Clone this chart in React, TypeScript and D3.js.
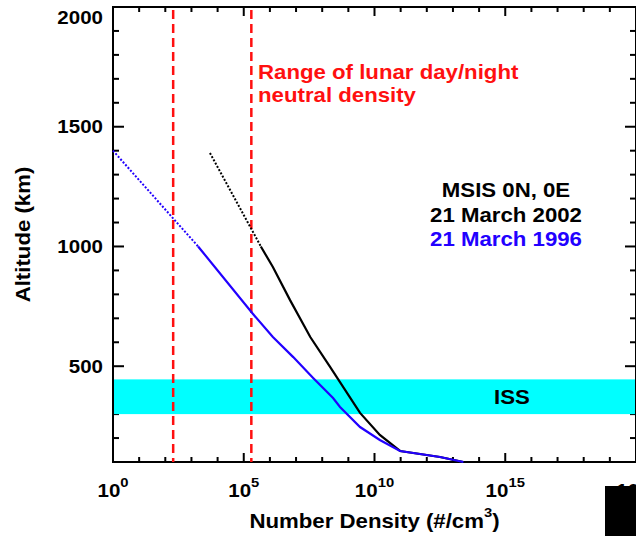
import { useEffect, useRef } from 'react'
import * as d3 from 'd3'

// axis setup
const densityDomain = [1e0, 1e20]
const altitudeDomain = [100, 2000]
const xTickExponents = [0, 5, 10, 15, 20]
const yTickValues = [500, 1000, 1500, 2000]

// MSIS 0N 0E, 21 March 1996 (blue)
const altitude1996Dotted = [1400, 1000]
const density1996Dotted = [1e0, 1.8e3]
const altitude1996Solid = [1000, 722, 622, 538, 451, 367, 330, 246, 192, 146, 121, 100]
const density1996Solid = [1.8e3, 2.1e5, 1.3e6, 7.8e6, 4.5e7, 2.6e8, 4.8e8, 2.8e9, 1.6e10, 9.5e10, 3.2e12, 2.5e13]

// MSIS 0N 0E, 21 March 2002 (black)
const altitude2002Dotted = [1390, 1000]
const density2002Dotted = [5.1e3, 4.5e5]
const altitude2002Solid = [1000, 914, 776, 622, 497, 367, 305, 213, 146, 121, 100]
const density2002Solid = [4.5e5, 1.3e6, 5.9e6, 3.5e7, 2.0e8, 1.2e9, 2.8e9, 1.6e10, 9.5e10, 3.2e12, 2.5e13]

// lunar day/night range and ISS altitude band
const lunarDensityRange = [2.0e2, 1.95e5]
const issAltitudeRange = [300, 445]

const rangeLabel = ["Range of lunar day/night", "neutral density"]
const legendLines = ["MSIS 0N, 0E", "21 March 2002", "21 March 1996"]

const FONT = "'Liberation Sans', Arial, sans-serif"
const SX = 1.14
const BLUE = "#2200ff"
const RED = "#ff1010"

function App() {
    const ref = useRef(null)

    useEffect(() => {
        const svg = d3.select(ref.current)
        svg.selectAll("*").remove()

        const xScale = d3.scaleLog().domain(densityDomain).range([113, 636])
        const yScale = d3.scaleLinear().domain(altitudeDomain).range([462, 7])
        const [x0, x1] = xScale.range()
        const [yb, yt] = yScale.range()

        const addText = (px, py, str, size, color, anchor, rotate = 0) =>
            svg
                .append("text")
                .attr("transform", `translate(${px},${py}) rotate(${rotate}) scale(${SX},1)`)
                .attr("text-anchor", anchor)
                .attr("font-family", FONT)
                .attr("font-weight", "bold")
                .attr("font-size", size)
                .attr("fill", color)
                .text(str)

        // ticks on all four sides
        const ticks = svg.append("g").attr("stroke", "black").attr("stroke-width", 2)
        d3.range(0, 21).forEach(e => {
            const px = xScale(10 ** e)
            const len = e % 5 === 0 ? 9 : 5
            ticks.append("line").attr("x1", px).attr("x2", px).attr("y1", yb).attr("y2", yb - len)
            ticks.append("line").attr("x1", px).attr("x2", px).attr("y1", yt).attr("y2", yt + len)
        })
        d3.range(100, 2001, 100).forEach(v => {
            const py = yScale(v)
            const len = v % 500 === 0 ? 11 : 6
            ticks.append("line").attr("x1", x0).attr("x2", x0 + len).attr("y1", py).attr("y2", py)
            ticks.append("line").attr("x1", x1).attr("x2", x1 - len).attr("y1", py).attr("y2", py)
        })

        // ISS band
        svg
            .append("rect")
            .attr("x", x0)
            .attr("y", yScale(issAltitudeRange[1]))
            .attr("width", x1 - x0)
            .attr("height", yScale(issAltitudeRange[0]) - yScale(issAltitudeRange[1]))
            .attr("fill", "#00ffff")

        // frame
        svg
            .append("rect")
            .attr("x", x0)
            .attr("y", yt)
            .attr("width", x1 - x0)
            .attr("height", yb - yt)
            .attr("fill", "none")
            .attr("stroke", "black")
            .attr("stroke-width", 2)

        // lunar range dashed lines
        lunarDensityRange.forEach(d => {
            svg
                .append("line")
                .attr("x1", xScale(d))
                .attr("x2", xScale(d))
                .attr("y1", yt + 3)
                .attr("y2", yb)
                .attr("stroke", RED)
                .attr("stroke-width", 2.5)
                .attr("stroke-dasharray", "9,5")
        })

        const path = d3
            .line()
            .x(d => xScale(d[0]))
            .y(d => yScale(d[1]))

        const drawSeries = (dens, alts, color, dotted) => {
            svg
                .append("path")
                .datum(dens.map((d, i) => [d, alts[i]]))
                .attr("d", path)
                .attr("fill", "none")
                .attr("stroke", color)
                .attr("stroke-width", dotted ? 2 : 2.2)
                .attr("stroke-dasharray", dotted ? "2,1.7" : null)
        }

        drawSeries(density2002Dotted, altitude2002Dotted, "black", true)
        drawSeries(density2002Solid, altitude2002Solid, "black", false)
        drawSeries(density1996Dotted, altitude1996Dotted, BLUE, true)
        drawSeries(density1996Solid, altitude1996Solid, BLUE, false)

        // y tick labels
        yTickValues.forEach(v => {
            addText(103, Math.max(yScale(v) + 6.5, 24), String(v), 18, "black", "end")
        })

        // x tick labels 10^n
        xTickExponents.forEach(e => {
            const t = addText(xScale(10 ** e), 497, null, 18, "black", "middle")
            t.append("tspan").text("10")
            t.append("tspan").attr("font-size", 13).attr("dy", -10).text(String(e))
        })

        // black box in the lower right corner
        svg.append("rect").attr("x", 605).attr("y", 486).attr("width", 31).attr("height", 50).attr("fill", "black")

        // axis titles
        const xt = addText((x0 + x1) / 2, 528, null, 19.5, "black", "middle")
        xt.append("tspan").text("Number Density (#/cm")
        xt.append("tspan").attr("font-size", 13).attr("dy", -11).text("3")
        xt.append("tspan").attr("dy", 11).text(")")
        addText(29.5, (yb + yt) / 2, "Altitude (km)", 19.5, "black", "middle", -90)

        // annotations
        rangeLabel.forEach((s, i) => addText(258, 79 + i * 22.5, s, 19.5, RED, "start"))
        const legendColors = ["black", "black", BLUE]
        legendLines.forEach((s, i) => addText(506, [197, 222, 246][i], s, 19.5, legendColors[i], "middle"))
        addText(512, 404, "ISS", 19.5, "black", "middle")
    }, [])

    return (
        <svg
            ref={ref}
            width={636}
            height={536}
            style={{ position: "absolute", left: 0, top: 0, background: "#fff" }}
        />
    )
}

export default App
